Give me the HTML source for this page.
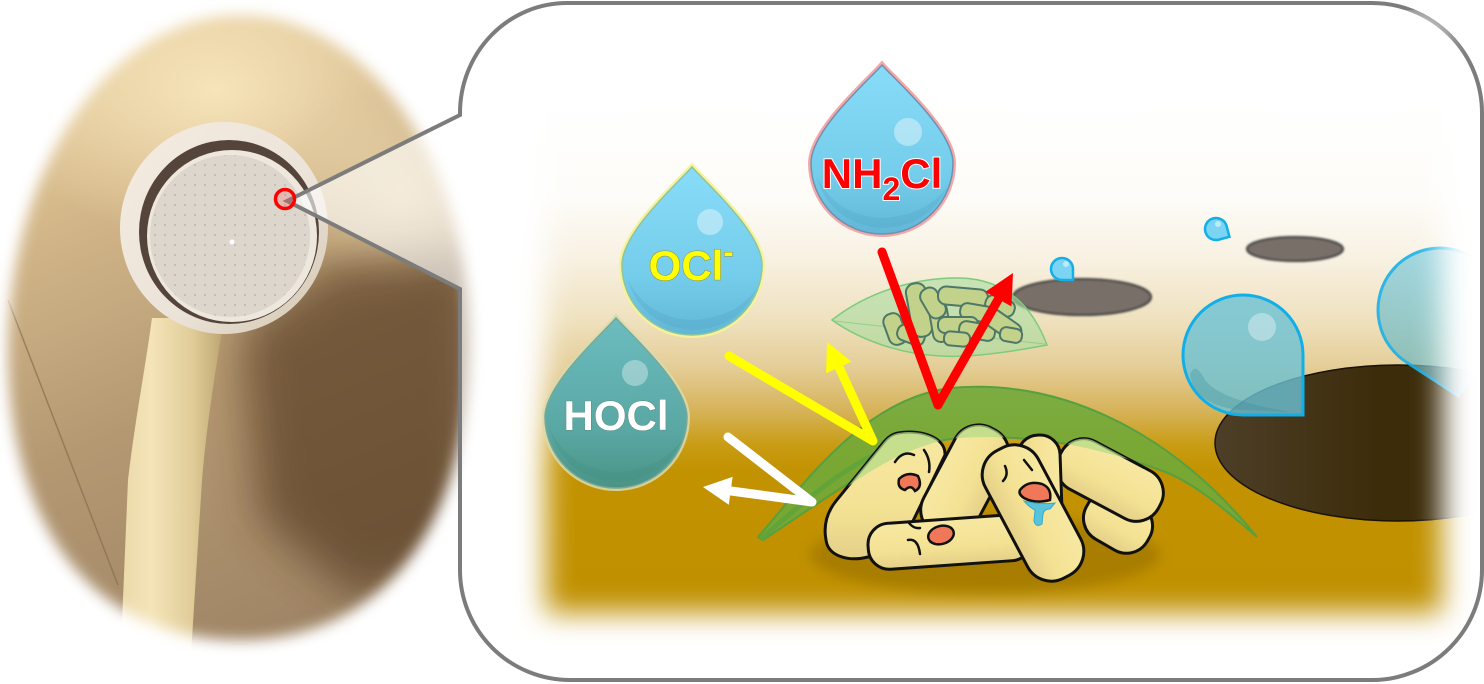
<!DOCTYPE html>
<html><head><meta charset="utf-8">
<style>html,body{margin:0;padding:0;background:#fff}svg{display:block}</style></head>
<body>
<svg width="1484" height="684" viewBox="0 0 1484 684" xmlns="http://www.w3.org/2000/svg">
<defs>
 <filter id="b7" x="-10%" y="-10%" width="120%" height="120%"><feGaussianBlur stdDeviation="7"/></filter>
 <mask id="pm" maskUnits="userSpaceOnUse" x="0" y="0" width="1484" height="684">
  <path d="M240,15 C367,15 470,161 470,340 C470,526 383,640 240,640 C96,640 8,530 8,350 C8,165 112,15 240,15 Z" fill="#fff" filter="url(#b7)"/>
 </mask>
 <linearGradient id="wall" x1="0" y1="0" x2="0.3" y2="1">
  <stop offset="0" stop-color="#eed8aa"/><stop offset="0.3" stop-color="#d6ba8c"/><stop offset="0.65" stop-color="#b49872"/><stop offset="1" stop-color="#a08666"/></linearGradient>
 <radialGradient id="hl" cx="0.5" cy="0.5" r="0.5"><stop offset="0" stop-color="#f8e6bc" stop-opacity="0.95"/><stop offset="1" stop-color="#f8e6bc" stop-opacity="0"/></radialGradient>
 <filter id="b25" x="-50%" y="-50%" width="200%" height="200%"><feGaussianBlur stdDeviation="22"/></filter>
 <filter id="b6" x="-30%" y="-50%" width="160%" height="200%"><feGaussianBlur stdDeviation="6"/></filter>
 <filter id="b1" x="-10%" y="-30%" width="120%" height="160%"><feGaussianBlur stdDeviation="1"/></filter>
 <filter id="b14" x="-15%" y="-15%" width="130%" height="130%"><feGaussianBlur stdDeviation="14"/></filter>
 <linearGradient id="handle" x1="0" y1="0" x2="1" y2="0"><stop offset="0" stop-color="#ead8a8"/><stop offset="0.3" stop-color="#f4e4b8"/><stop offset="0.7" stop-color="#e0cc98"/><stop offset="1" stop-color="#bca470"/></linearGradient>
 <linearGradient id="rim" x1="0" y1="0" x2="1" y2="1"><stop offset="0" stop-color="#f4ece0"/><stop offset="0.6" stop-color="#ebe3d8"/><stop offset="1" stop-color="#d2c4ae"/></linearGradient>
 <pattern id="dots" width="10" height="10" patternUnits="userSpaceOnUse"><circle cx="5" cy="5" r="1" fill="#9a9088"/></pattern>
 <linearGradient id="sg" gradientUnits="userSpaceOnUse" x1="0" y1="100" x2="0" y2="615">
  <stop offset="0" stop-color="#ffffff"/><stop offset="0.19" stop-color="#fdfcf8"/><stop offset="0.31" stop-color="#f8f1e2"/><stop offset="0.43" stop-color="#efe1be"/><stop offset="0.52" stop-color="#e4cd96"/><stop offset="0.6" stop-color="#d7b45c"/><stop offset="0.67" stop-color="#c99c14"/><stop offset="0.72" stop-color="#c29200"/><stop offset="1" stop-color="#c09000"/></linearGradient>
 <mask id="sm" maskUnits="userSpaceOnUse" x="0" y="0" width="1484" height="684"><rect x="546" y="20" width="896" height="593" fill="#fff" filter="url(#b14)"/></mask>
 <linearGradient id="hole" x1="0" y1="0" x2="1" y2="0"><stop offset="0" stop-color="#4d3f28"/><stop offset="0.45" stop-color="#3c2c0a"/><stop offset="1" stop-color="#3a2a06"/></linearGradient>
 <linearGradient id="dropB" x1="0" y1="0" x2="0" y2="1"><stop offset="0" stop-color="#88dcf8"/><stop offset="0.65" stop-color="#74cdeb"/><stop offset="1" stop-color="#62b6d6"/></linearGradient>
 <linearGradient id="dropT" x1="0" y1="0" x2="0" y2="1"><stop offset="0" stop-color="#6cbcc0"/><stop offset="0.65" stop-color="#5aa8a4"/><stop offset="1" stop-color="#4a9486"/></linearGradient>
 <linearGradient id="dropR" x1="0" y1="0" x2="0" y2="1"><stop offset="0" stop-color="#7ccfe4"/><stop offset="1" stop-color="#6ab8c4"/></linearGradient>
 <linearGradient id="bac" x1="0" y1="0" x2="0" y2="1"><stop offset="0" stop-color="#f7e8a2"/><stop offset="0.6" stop-color="#f4e294"/><stop offset="1" stop-color="#e4d088"/></linearGradient>
 <clipPath id="bclip">
  <path d="M898,433 C920,429 946,437 945,455 L913,521 C905,540 885,552 868,557 C848,562 828,556 826,540 C823,524 828,511 836,501 L884,442 C888,437 893,434 898,433 Z"/>
  <rect x="-60" y="-29" width="120" height="58" rx="27" transform="translate(965 482) rotate(-62)"/>
  <rect x="-56" y="-27" width="112" height="54" rx="25" transform="translate(1110 480) rotate(28)"/>
 </clipPath>
</defs>

<!-- PHOTO -->
<g mask="url(#pm)">
 <rect x="0" y="0" width="490" height="684" fill="url(#wall)"/>
 <ellipse cx="215" cy="90" rx="230" ry="150" fill="url(#hl)"/>
 <ellipse cx="400" cy="190" rx="110" ry="100" fill="url(#hl)" opacity="0.6"/>
 <polygon points="240,330 330,265 480,250 480,560 360,600 260,520" fill="#4a2e12" opacity="0.6" filter="url(#b25)"/>
 <line x1="8" y1="300" x2="118" y2="585" stroke="#8a6e4c" stroke-width="1.5" opacity="0.7"/>
 <!-- handle -->
 <path d="M152,318 L224,318 C214,380 206,430 202,480 L190,670 L120,670 L128,480 C135,420 145,370 152,318 Z" fill="url(#handle)"/>
 <!-- head -->
 <ellipse cx="224" cy="228" rx="104" ry="106" fill="url(#rim)"/>
 <ellipse cx="229" cy="232" rx="90" ry="92" fill="#54443a"/>
 <ellipse cx="232" cy="236" rx="85" ry="86" fill="#ede7de"/>
 <ellipse cx="230" cy="236" rx="80" ry="81" fill="#ddd6cd"/>
 <ellipse cx="230" cy="236" rx="80" ry="81" fill="url(#dots)" opacity="0.45"/>
 <circle cx="232" cy="242" r="2.5" fill="#fff"/>
</g>

<!-- CALLOUT -->
<path d="M567,3 L1372,3 A110,110 0 0 1 1482,113 L1482,570 A110,110 0 0 1 1372,680 L570,680 A110,110 0 0 1 460,570 L460,289 L287,201 L460,115 L460,113 A107,110 0 0 1 567,3 Z" fill="#fff" fill-opacity="0.62" stroke="#7c7c7c" stroke-width="4" stroke-linejoin="miter"/>
<circle cx="285" cy="199" r="9.5" fill="#ff6060" fill-opacity="0.25" stroke="#ff0000" stroke-width="3.5"/>

<!-- SCENE BACKGROUND -->
<g mask="url(#sm)">
 <rect x="470" y="10" width="1005" height="665" fill="url(#sg)"/>
 <ellipse cx="1398" cy="443" rx="183" ry="78" fill="url(#hole)" stroke="#1a1206" stroke-width="1.5"/>
 <g transform="rotate(33 1440 310)" opacity="0.9">
  <path d="M1440,372 A62,62 0 1 1 1502,310 L1502,372 Z" fill="url(#dropR)" fill-opacity="0.75" stroke="#18b0e8" stroke-width="3"/>
 </g>
</g>
<ellipse cx="1082" cy="297" rx="69" ry="18" fill="#787068" stroke="#3a3a3a" stroke-width="2" filter="url(#b1)"/>
<ellipse cx="1295" cy="249" rx="48" ry="12" fill="#787068" stroke="#3a3a3a" stroke-width="2" filter="url(#b1)"/>

<!-- big right drop -->
<path d="M1243,415 A60,60 0 1 1 1303,355 L1303,415 Z" fill="#6cc2d4" fill-opacity="0.8" stroke="#12aee8" stroke-width="3"/>
<path d="M1190,375 Q1195,405 1240,410 L1290,412 Q1220,400 1205,380 Q1195,360 1190,375 Z" fill="#3a8a9a" opacity="0.3"/>
<circle cx="1262" cy="327" r="14" fill="#fff" opacity="0.35"/>
<!-- small drops -->
<path d="M1062,280 A11,11 0 1 1 1073,269 L1073,280 Z" fill="#7ad4f2" stroke="#14aee8" stroke-width="2.5"/>
<circle cx="1066" cy="264" r="3" fill="#fff" opacity="0.5"/>
<g transform="rotate(-15 1216 229)"><path d="M1216,240 A11,11 0 1 1 1227,229 L1227,240 Z" fill="#7ad4f2" stroke="#14aee8" stroke-width="2.5"/></g>
<circle cx="1218" cy="224" r="3" fill="#fff" opacity="0.5"/>

<!-- small green cluster -->
<path d="M832,320 C870,290 920,277 960,278 C1000,279 1030,300 1047,345 C1010,352 970,358 940,356 C900,354 860,340 832,320 Z" fill="#a8dca0" fill-opacity="0.6" stroke="#7ccc7c" stroke-width="1.5"/>
<line x1="834" y1="321" x2="1045" y2="344" stroke="#7ccc7c" stroke-width="1" opacity="0.7"/>
<g fill="#c3d28a" stroke="#4d7868" stroke-width="2">
 <rect x="-16" y="-9" width="32" height="18" rx="8" transform="translate(895 329) rotate(70)"/>
 <rect x="-14" y="-8" width="28" height="16" rx="7" transform="translate(911 335) rotate(20)"/>
 <rect x="-27" y="-10" width="54" height="20" rx="9" transform="translate(919 310) rotate(80)"/>
 <rect x="-20" y="-9" width="40" height="18" rx="8" transform="translate(940 322) rotate(80)"/>
 <rect x="-16" y="-9" width="32" height="18" rx="8" transform="translate(933 303) rotate(60)"/>
 <rect x="-25" y="-9" width="50" height="18" rx="8" transform="translate(963 297) rotate(5)"/>
 <rect x="-15" y="-8" width="30" height="16" rx="7" transform="translate(1000 306) rotate(20)"/>
 <rect x="-18" y="-8" width="36" height="16" rx="7" transform="translate(978 313) rotate(10)"/>
 <rect x="-20" y="-8" width="40" height="16" rx="7" transform="translate(958 325) rotate(0)"/>
 <rect x="-18" y="-8" width="36" height="16" rx="7" transform="translate(977 331) rotate(10)"/>
 <rect x="-20" y="-9" width="40" height="18" rx="8" transform="translate(1003 325) rotate(35)"/>
 <rect x="-13" y="-7" width="26" height="14" rx="6" transform="translate(957 339) rotate(5)"/>
 <rect x="-11" y="-7" width="22" height="14" rx="6" transform="translate(1011 335) rotate(10)"/>
</g>

<!-- shadow under bacteria -->
<ellipse cx="985" cy="555" rx="175" ry="38" fill="#8a6600" opacity="0.45" filter="url(#b6)"/>

<!-- biofilm leaf -->
<path d="M758,537 C800,490 860,400 950,388 C1060,378 1170,430 1257,537 C1220,505 1190,480 1160,470 C1120,455 1080,445 1040,440 C1000,436 960,436 940,441 C910,449 885,462 860,476 C825,498 790,522 763,540 Z" fill="#6eaa3a" fill-opacity="0.88" stroke="#56a040" stroke-width="2"/>
<path d="M762,538 C800,505 840,470 880,452" fill="none" stroke="#5ca43a" stroke-width="5" stroke-linecap="round" opacity="0.8"/>

<!-- bacteria -->
<g stroke="#111" stroke-width="3" fill="url(#bac)">
 <rect x="-35" y="-26" width="70" height="52" rx="24" transform="translate(1118 522) rotate(30)"/>
 <rect x="-56" y="-27" width="112" height="54" rx="25" transform="translate(1110 480) rotate(28)"/>
 <rect x="-47" y="-21" width="94" height="42" rx="20" transform="translate(1040 482) rotate(88)"/>
 <path d="M898,433 C920,429 946,437 945,455 L913,521 C905,540 885,552 868,557 C848,562 828,556 826,540 C823,524 828,511 836,501 L884,442 C888,437 893,434 898,433 Z"/>
 <rect x="-60" y="-29" width="120" height="58" rx="27" transform="translate(965 482) rotate(-62)"/>
 <rect x="-82" y="-23" width="164" height="46" rx="21" transform="translate(950 542) rotate(-4)"/>
 <rect x="-72" y="-30" width="144" height="60" rx="27" transform="translate(1033 513) rotate(62)"/>
</g>
<!-- leaf tint on bacteria tops -->
<path d="M758,537 C800,490 860,400 950,388 C1060,378 1170,430 1257,537 C1220,505 1190,480 1160,470 C1120,455 1080,445 1040,440 C1000,436 960,436 940,441 C910,449 885,462 860,478 C825,502 790,528 766,538 Z" fill="#b0dc86" fill-opacity="0.7" clip-path="url(#bclip)"/>

<!-- faces -->
<g stroke="#111" stroke-width="2.5" fill="none" stroke-linecap="round">
 <path d="M895,462 Q903,450 914,455"/>
 <path d="M924,450 Q931,460 929,472"/>
 <path d="M909,523 Q914,529 920,528"/>
 <path d="M908,540 Q918,538 920,554"/>
 <path d="M1005,466 Q1009,475 1003,481"/>
 <path d="M1024,460 L1032,470"/>
</g>
<g stroke="#111" stroke-width="2.5" fill="#f07858">
 <path d="M899,479 Q907,471 918,476 Q923,487 915,491 Q911,484 905,490 Q897,488 899,479 Z"/>
 <ellipse cx="941" cy="535" rx="13" ry="9" transform="rotate(-15 941 535)"/>
 <path d="M1020,490 Q1028,480 1042,484 Q1052,488 1050,500 Q1035,504 1024,498 Q1018,494 1020,490 Z"/>
</g>
<path d="M1024,501 Q1040,505 1055,503 L1050,509 Q1044,509 1043,514 L1042,524 Q1036,528 1034,521 L1035,510 Q1029,507 1024,501 Z" fill="#58c4dc" stroke="#3aa8cc" stroke-width="1"/>

<!-- arrows -->
<g fill="none" stroke-linecap="round" stroke-linejoin="round" stroke-width="9">
 <polyline points="728,437 812,502 731,491" stroke="#fff"/>
 <polyline points="729,356 873,441 839,367" stroke="#ffff00"/>
 <polyline points="882,252 938,405 999,298" stroke="#ff0000"/>
</g>
<polygon points="703,487 732.6,476.9 728.8,504.7" fill="#fff"/>
<polygon points="827,342 851.5,361.5 826.1,373.3" fill="#ffff00"/>
<polygon points="1013,273 1011.5,306.5 985.3,291.9" fill="#ff0000"/>

<!-- drops -->
<!-- HOCl -->
<path d="M616,318 C629,333 687,384 687,417 A71,71 0 1 1 545,417 C545,384 603,333 616,318 Z" fill="none" stroke="#d8dcae" stroke-width="6" opacity="0.85"/>
<path d="M616,318 C629,333 687,384 687,417 A71,71 0 1 1 545,417 C545,384 603,333 616,318 Z" fill="url(#dropT)" stroke="#78a898" stroke-width="1.5"/>
<path d="M550,430 Q565,478 616,482 Q664,480 682,440 Q660,470 616,472 Q570,470 550,430 Z" fill="#3f8a7c" opacity="0.25"/>
<circle cx="635" cy="373" r="13" fill="#fff" opacity="0.35"/>
<text x="616" y="430" text-anchor="middle" font-family="Liberation Sans, sans-serif" font-weight="bold" font-size="42" fill="#fff" stroke="#5a8a80" stroke-width="1" paint-order="stroke">HOCl</text>
<!-- OCl- -->
<path d="M692,167 C705,182 762,232 762,265 A70,70 0 1 1 622,265 C622,232 679,182 692,167 Z" fill="none" stroke="#f6f29a" stroke-width="6"/>
<path d="M692,167 C705,182 762,232 762,265 A70,70 0 1 1 622,265 C622,232 679,182 692,167 Z" fill="url(#dropB)" stroke="#8cc4a0" stroke-width="1.5"/>
<path d="M627,278 Q642,326 692,330 Q740,328 757,288 Q736,318 692,320 Q646,318 627,278 Z" fill="#4a9ec0" opacity="0.25"/>
<circle cx="710" cy="222" r="13" fill="#fff" opacity="0.4"/>
<text x="691" y="280" text-anchor="middle" font-family="Liberation Sans, sans-serif" font-weight="bold" font-size="42" fill="#ffff00" stroke="#8a8a40" stroke-width="1" paint-order="stroke">OCl<tspan font-size="30" dy="-18">-</tspan></text>
<!-- NH2Cl -->
<path d="M882,65 C895,80 953,130 953,163 A71,71 0 1 1 811,163 C811,130 869,80 882,65 Z" fill="none" stroke="#f4a8a8" stroke-width="6"/>
<path d="M882,65 C895,80 953,130 953,163 A71,71 0 1 1 811,163 C811,130 869,80 882,65 Z" fill="url(#dropB)" stroke="#7090b0" stroke-width="1.5"/>
<path d="M816,176 Q831,224 882,228 Q930,226 948,186 Q926,216 882,218 Q836,216 816,176 Z" fill="#4a9ec0" opacity="0.25"/>
<circle cx="908" cy="132" r="14" fill="#fff" opacity="0.4"/>
<text x="882" y="188" text-anchor="middle" font-family="Liberation Sans, sans-serif" font-weight="bold" font-size="42" fill="#ff0000" stroke="#fff" stroke-width="2" paint-order="stroke">NH<tspan font-size="32" dy="12">2</tspan><tspan dy="-12">Cl</tspan></text>
</svg>
</body></html>
